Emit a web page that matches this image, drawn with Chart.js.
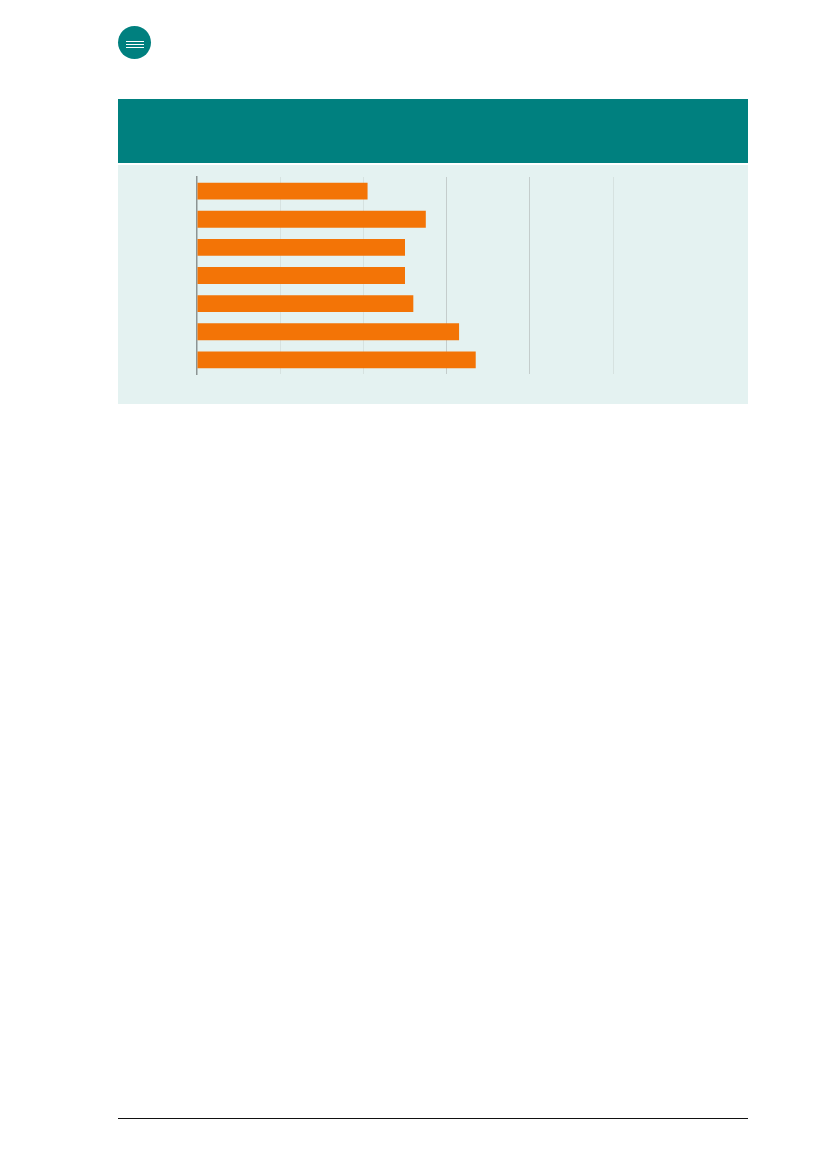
<!DOCTYPE html>
<html>
<head>
<meta charset="utf-8">
<script src="https://cdn.jsdelivr.net/npm/chart.js@4/dist/chart.umd.min.js"></script>
<style>
  html, body { margin: 0; padding: 0; background: #ffffff; }
  body { width: 827px; height: 1169px; position: relative; overflow: hidden; font-family: "Noto Sans", sans-serif; }
  #menu { position: absolute; left: 118px; top: 26px; width: 33px; height: 33px; border-radius: 50%; background: #00807f; }
  #menu span { position: absolute; left: 8px; width: 18px; height: 1.2px; background: #ffffff; }
  #header { position: absolute; left: 118px; top: 99px; width: 630px; height: 64px; background: #00807f; }
  #panel { position: absolute; left: 118px; top: 165px; width: 630px; height: 239px; background: #e4f2f1; }
  #wrap { position: absolute; left: 192px; top: 172px; width: 426px; height: 207px; }
  #rule { position: absolute; left: 118px; top: 1117.5px; width: 630px; height: 1.3px; background: #111111; }
</style>
</head>
<body>
<div id="menu"><span style="top:15px"></span><span style="top:17.8px"></span><span style="top:20.6px"></span></div>
<div id="header"></div>
<div id="panel"></div>
<div id="wrap"><canvas id="c" width="426" height="207"></canvas></div>
<div id="rule"></div>
<script>
const categories = ["1", "2", "3", "4", "5", "6", "7"];
const values = [20.5, 27.5, 25.0, 25.0, 26.0, 31.5, 33.5];
const xTicks = [0, 10, 20, 30, 40, 50];

new Chart(document.getElementById('c'), {
  type: 'bar',
  data: {
    labels: categories,
    datasets: [{
      data: values,
      backgroundColor: '#f37406',
      borderWidth: 0,
      categoryPercentage: 1.0,
      barPercentage: 0.6
    }]
  },
  options: {
    indexAxis: 'y',
    responsive: false,
    animation: false,
    devicePixelRatio: 1,
    layout: { padding: 5 },
    plugins: { legend: { display: false }, tooltip: { enabled: false }, title: { display: false } },
    scales: {
      x: {
        min: xTicks[0],
        max: xTicks[xTicks.length - 1],
        afterBuildTicks: (axis) => { axis.ticks = xTicks.map(v => ({ value: v })); },
        ticks: { display: false },
        border: { display: false },
        grid: {
          drawTicks: false,
          lineWidth: 1,
          color: (ctx) => {
            const v = ctx.tick ? ctx.tick.value : 0;
            if (v === 0) return 'rgba(0,0,0,0)';
            if (v === 30 || v === 40) return '#c4cdcc';
            return '#d6e2e0';
          }
        }
      },
      y: {
        ticks: { display: false },
        grid: { display: false, drawTicks: false },
        border: { display: true, color: '#8c9493', width: 1.5 }
      }
    }
  }
});
</script>
</body>
</html>
